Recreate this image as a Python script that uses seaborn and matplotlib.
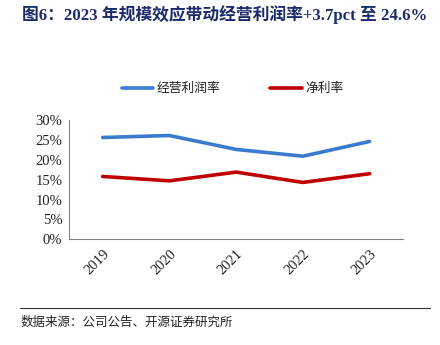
import matplotlib
matplotlib.use("Agg")
import matplotlib.pyplot as plt
import seaborn as sns
import pandas as pd
from matplotlib.ticker import PercentFormatter

years = ["2019", "2020", "2021", "2022", "2023"]
operating_margin = [25.6, 26.1, 22.6, 20.9, 24.6]
net_margin = [15.8, 14.7, 16.9, 14.3, 16.5]
series_names = ["经营利润率", "净利率"]
y_ticks = [0, 5, 10, 15, 20, 25, 30]

sns.set_theme(style="white")
plt.rcParams["font.family"] = ["Liberation Serif", "Noto Sans CJK SC", "DejaVu Sans"]

df = pd.DataFrame({
    "year": years * 2,
    "value": operating_margin + net_margin,
    "series": [series_names[0]] * len(years) + [series_names[1]] * len(years),
})

fig = plt.figure(figsize=(4.4, 3.45), dpi=100)
ax = fig.add_axes([69.3 / 440, 1 - 239.3 / 345, (403 - 69.3) / 440, (239.3 - 120) / 345])

palette = {series_names[0]: "#3A7BD0", series_names[1]: "#C00000"}
sns.lineplot(data=df, x="year", y="value", hue="series", palette=palette,
             linewidth=2.6, ax=ax, legend=False, sort=False)

ax.set_xlim(-0.5, len(years) - 0.5)
ax.set_ylim(0, 30)
ax.set_yticks(y_ticks)
ax.yaxis.set_major_formatter(PercentFormatter(decimals=0))
ax.set_xticks([i - 0.5 for i in range(len(years) + 1)], minor=False)
ax.set_xticklabels([])
ax.set_xticks(range(len(years)), minor=True)
ax.set_xticklabels(years, minor=True, rotation=45, ha="right", va="top",
                   rotation_mode="anchor", fontsize=10.5, color="#222222")
ax.tick_params(axis="x", which="minor", length=0, pad=6)
ax.tick_params(axis="x", which="major", direction="in", length=3.5, color="#808080", width=0.8)
ax.tick_params(axis="y", direction="in", length=3, color="#808080", width=0.8,
               labelsize=10.5, labelcolor="#222222", pad=5)
ax.set_xlabel("")
ax.set_ylabel("")
for side in ["top", "right"]:
    ax.spines[side].set_visible(False)
for side in ["left", "bottom"]:
    ax.spines[side].set_color("#808080")
    ax.spines[side].set_linewidth(0.8)

# legend row above the plot
cjk = ["Noto Sans CJK SC", "DejaVu Sans"]
fig.lines.append(plt.Line2D([122 / 440, 153 / 440], [1 - 88 / 345] * 2,
                            color=palette[series_names[0]], lw=2.6, transform=fig.transFigure))
fig.text(157 / 440, 1 - 88 / 345, series_names[0], family=cjk, fontsize=9.2,
         va="center", ha="left", color="#222222")
fig.lines.append(plt.Line2D([270 / 440, 302 / 440], [1 - 88 / 345] * 2,
                            color=palette[series_names[1]], lw=2.6, transform=fig.transFigure))
fig.text(305 / 440, 1 - 88 / 345, series_names[1], family=cjk, fontsize=9.2,
         va="center", ha="left", color="#222222")

# title and source
fig.text(22 / 440, 1 - 15 / 345, "图6：2023 年规模效应带动经营利润率+3.7pct 至 24.6%",
         family=["Liberation Serif", "Noto Sans CJK SC"], fontweight="bold",
         fontsize=12.1, color="#1B2A6B", va="center", ha="left")
fig.lines.append(plt.Line2D([20 / 440, 430 / 440], [1 - 308 / 345] * 2,
                            color="#333333", lw=0.8, transform=fig.transFigure))
fig.text(21 / 440, 1 - 322 / 345, "数据来源：公司公告、开源证券研究所", family=cjk,
         fontsize=9, color="#222222", va="center", ha="left")

fig.savefig("out.png", dpi=100)
